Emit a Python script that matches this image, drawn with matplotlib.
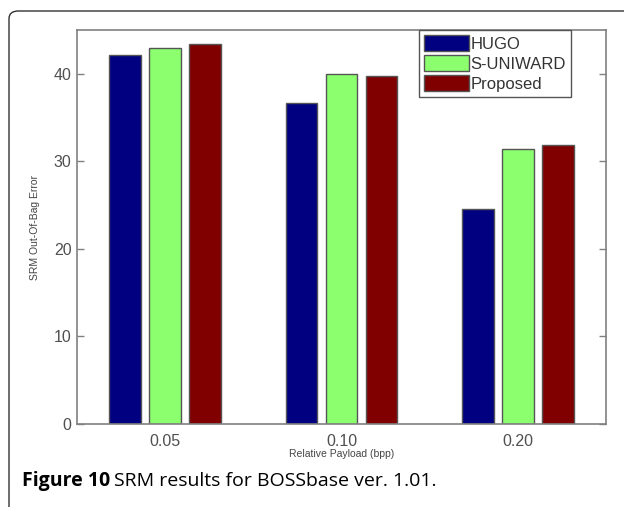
import numpy as np
import matplotlib.pyplot as plt
from matplotlib.patches import FancyBboxPatch

payloads = ['0.05', '0.10', '0.20']
hugo = [42.1, 36.7, 24.5]
s_uniward = [43.0, 40.0, 31.4]
proposed = [43.4, 39.8, 31.9]
series = ['HUGO', 'S-UNIWARD', 'Proposed']
colors = ['#000080', '#8CFF6E', '#800000']

W, H = 624, 507
fig = plt.figure(figsize=(W / 100, H / 100), dpi=100)
fig.patch.set_facecolor('white')

# outer rounded frame (open to the right/bottom, cropped)
frame = FancyBboxPatch((9 / W, -0.2), 1.2, (H - 11) / H + 0.2,
                       boxstyle='round,pad=0,rounding_size=0.015',
                       transform=fig.transFigure, fill=False,
                       edgecolor='#333333', lw=1.0)
fig.patches.append(frame)

ax = fig.add_axes([77 / W, 1 - 424 / H, (606 - 77) / W, (424 - 30) / H])

x = np.arange(1, len(payloads) + 1)
off = 0.227
width = 0.18
for i, (vals, name, c) in enumerate(zip([hugo, s_uniward, proposed], series, colors)):
    ax.bar(x + (i - 1) * off, vals, width, color=c, edgecolor='#555555',
           linewidth=1.0, label=name)

ax.set_xlim(0.5, 3.5)
ax.set_ylim(0, 45)
ax.set_xticks(x)
ax.set_xticklabels(payloads)
ax.set_yticks([0, 10, 20, 30, 40])
ax.tick_params(direction='in', length=5, width=1, colors='#808080',
               labelcolor='#505050', labelsize=11.5, right=True, top=False,
               pad=4)
ax.tick_params(axis='x', length=0, pad=7)
for lbl in ax.get_xticklabels() + ax.get_yticklabels():
    lbl.set_family('Liberation Sans')
for s in ax.spines.values():
    s.set_color('#808080')
    s.set_linewidth(1.2)

ax.set_xlabel('Relative Payload (bpp)', fontsize=7.5, color='#444444',
              family='Liberation Sans', labelpad=0)
ax.set_ylabel('SRM Out-Of-Bag Error', fontsize=7.5, color='#444444',
              family='Liberation Sans', labelpad=10)

leg = ax.legend(loc='upper right', bbox_to_anchor=(494 / 529, 1.0),
                prop={'family': 'Liberation Sans', 'size': 12},
                fancybox=False, framealpha=1, edgecolor='#555555',
                borderpad=0.3, labelspacing=0.2, handlelength=2.7,
                handleheight=1.1, handletextpad=0.1, borderaxespad=0)
leg.get_frame().set_linewidth(1.0)
for t in leg.get_texts():
    t.set_color('#333333')

# caption
t1 = fig.text(22 / W, 1 - 481 / H, 'Figure 10', fontsize=14, fontweight='bold',
              family='Open Sans', va='center', ha='left', color='black')
fig.canvas.draw()
bb = t1.get_window_extent()
fig.text((bb.x1 + 4) / W, 1 - 481 / H, 'SRM results for BOSSbase ver. 1.01.',
         fontsize=14, family='Open Sans', va='center', ha='left', color='black')

fig.savefig('out.png', dpi=100)
